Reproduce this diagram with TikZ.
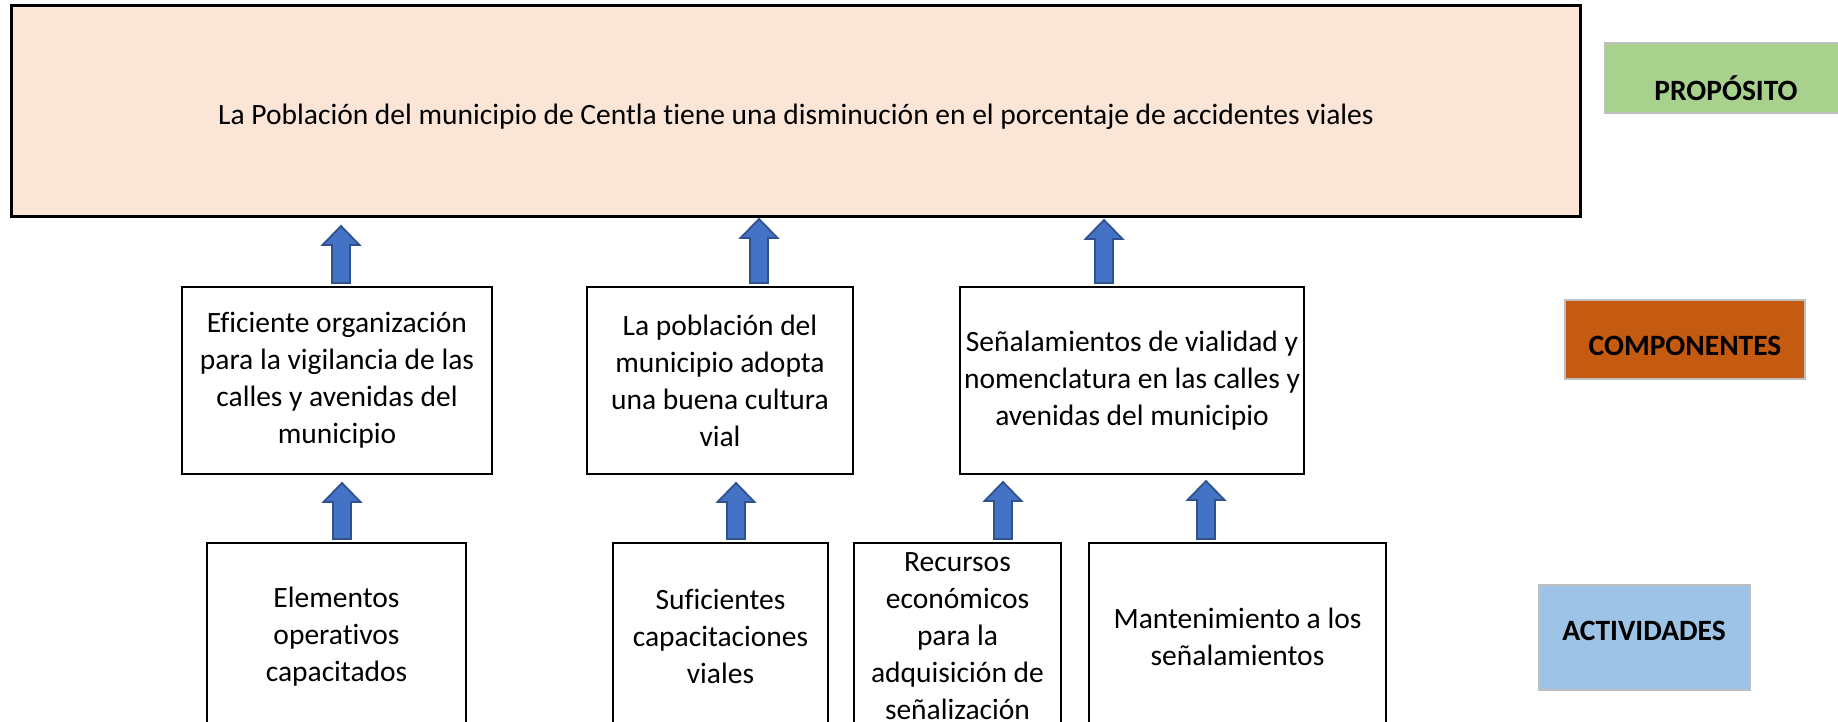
\documentclass[tikz,border=0pt]{standalone}
\usepackage{fontspec}
\setmainfont{Carlito}[Ligatures=NoCommon]
\usetikzlibrary{calc}
\definecolor{topfill}{HTML}{FBE5D6}
\definecolor{propfill}{HTML}{A9D18E}
\definecolor{compfill}{HTML}{C55A11}
\definecolor{actfill}{HTML}{9DC3E6}
\definecolor{arrfill}{HTML}{4472C4}
\definecolor{arredge}{HTML}{2F528F}
\definecolor{lbledge}{HTML}{BFBFBF}
\tikzset{
  every node/.style={font=\fontsize{29.5}{37}\selectfont, inner sep=0pt, outer sep=0pt},
  goalbox/.style={draw=black, line width=3pt, fill=topfill},
  midbox/.style={draw=black, line width=2.6pt, align=center},
  lblbox/.style={draw=lbledge, line width=2pt},
  lbltext/.style={font=\fontsize{29.5}{37}\selectfont\bfseries},
  blockarrow/.style={draw=arredge, fill=arrfill, line width=1.8pt, line join=miter},
}
% x, lower node, upper node, tip gap
\newcommand\blockarr[4]{%
  \path[blockarrow] let \p1=(#2.north), \p2=(#3.south) in
   (#1pt-9pt,\y1+4pt) -- (#1pt-9pt,\y2-#4pt-19pt) -- (#1pt-18.5pt,\y2-#4pt-19pt)
   -- (#1pt,\y2-#4pt) -- (#1pt+18.5pt,\y2-#4pt-19pt) -- (#1pt+9pt,\y2-#4pt-19pt)
   -- (#1pt+9pt,\y1+4pt) -- cycle;}
\begin{document}
\begin{tikzpicture}[x=1pt,y=-1pt]
\useasboundingbox (0,0) rectangle (1838,722);
\clip (0,0) rectangle (1838,722);
% goal
\node[goalbox, minimum width=1569pt, minimum height=210.5pt, text height=27pt, text depth=0pt] (goal) at (796,110.75)
  {La Población del municipio de Centla tiene una disminución en el porcentaje de accidentes viales};
% components
\node[midbox, minimum width=310pt, minimum height=187pt] (c1) at (337,380.5)
  {Eficiente organización\\para la vigilancia de las\\calles y avenidas del\\municipio};
\node[midbox, minimum width=266pt, minimum height=187pt] (c2) at (720,380.5)
  {La población del\\municipio adopta\\una buena cultura\\vial};
\node[midbox, minimum width=344pt, minimum height=187pt] (c3) at (1132,380.5)
  {Señalamientos de vialidad y\\nomenclatura en las calles y\\avenidas del municipio};
% activities
\node[midbox, minimum width=259pt, minimum height=187pt] (a1) at (336.5,636.5)
  {Elementos\\operativos\\capacitados};
\node[midbox, minimum width=215pt, minimum height=187pt] (a2) at (720.5,636.5)
  {Suficientes\\capacitaciones\\viales};
\node[midbox, minimum width=207pt, minimum height=187pt] (a3) at (957.5,636.5)
  {Recursos\\económicos\\para la\\adquisición de\\señalización};
\node[midbox, minimum width=297pt, minimum height=187pt] (a4) at (1237.5,636.5)
  {Mantenimiento a los\\señalamientos};
% arrows
\blockarr{341}{c1}{goal}{10}
\blockarr{759}{c2}{goal}{3}
\blockarr{1104}{c3}{goal}{4}
\blockarr{342}{a1}{c1}{9}
\blockarr{736}{a2}{c2}{9}
\blockarr{1003}{a3}{c3}{8}
\blockarr{1206}{a4}{c3}{7}
% legend
\node[lblbox, fill=propfill, minimum width=240pt, minimum height=70pt] (lp) at (1725,78) {};
\node[lbltext] (lpt) at (1726,88) {PROPÓSITO};
\node[lblbox, fill=compfill, minimum width=240pt, minimum height=79pt] (lc) at (1685,339.5) {};
\node[lbltext] (lct) at (1685,346) {COMPONENTES};
\node[lblbox, fill=actfill, minimum width=211pt, minimum height=105pt] (la) at (1644.5,637.5) {};
\node[lbltext] (lat) at (1644,631) {ACTIVIDADES};
\end{tikzpicture}
\end{document}
